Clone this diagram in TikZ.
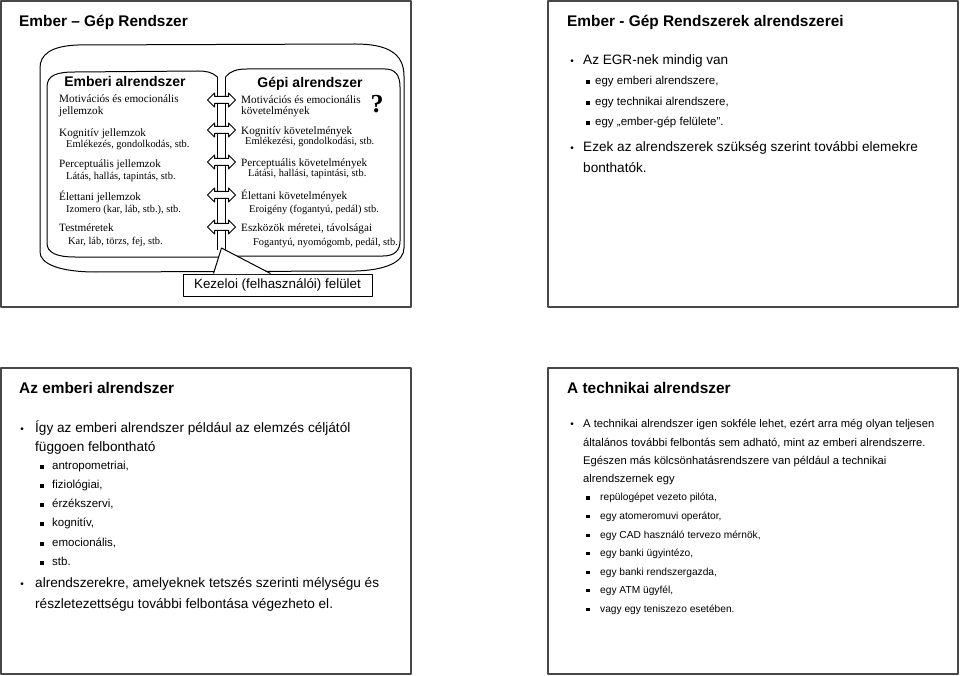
\documentclass[tikz,border=0pt]{standalone}
\usepackage{fontspec}
\setmainfont{Liberation Sans}
\newfontfamily\serifface{Liberation Serif}
\newcommand{\MB}[1]{\makebox[#1pt][l]{\fontsize{10}{10}\selectfont\raisebox{0.3pt}{•}}}
\newcommand{\SB}[1]{\makebox[#1pt][l]{\rule[1.2pt]{3.6pt}{3.6pt}}}
\begin{document}
\begin{tikzpicture}[x=1pt,y=-1pt,line join=round,
  frame/.style={draw=black!72,line width=1.5pt},
  ln/.style={line width=1pt},
  t/.style={anchor=base west,inner sep=0pt},
  slidetitle/.style={t,font=\fontsize{15.4}{18}\selectfont\bfseries},
  pagetitle/.style={anchor=base,inner sep=0pt,font=\fontsize{14}{16}\selectfont\bfseries},
  sm/.style={t,font=\serifface\fontsize{11.2}{13}\selectfont},
  ss/.style={t,font=\serifface\fontsize{10.4}{12}\selectfont},
  mainA/.style={t,font=\fontsize{13.6}{16}\selectfont},
  subA/.style={t,font=\fontsize{11.5}{14}\selectfont},
  mainB/.style={t,font=\fontsize{11.2}{14}\selectfont},
  subB/.style={t,font=\fontsize{10.2}{12}\selectfont},
  blockarrow/.style={ln,draw,fill=white}]
\useasboundingbox (0,0) rectangle (960,676);

% slide frames
\draw[frame] (1,1) rectangle (411,307);
\draw[frame] (548,1) rectangle (958,307);
\draw[frame] (1,368) rectangle (411,674);
\draw[frame] (548,368) rectangle (958,674);

% ---------- top-left slide ----------
\node[slidetitle] (tltitle) at (19,26.5) {Ember – Gép Rendszer};

% outer book shape
\draw[ln] (40,252) -- (40,68) .. controls (40,55) and (50,46) .. (78,45)
  -- (355,44) .. controls (387,44) and (404,53) .. (404,76)
  -- (404,248) .. controls (404,262) and (386,270) .. (356,271)
  -- (96,272) .. controls (60,272) and (40,264) .. (40,252);
% left page
\draw[ln] (217.5,77) .. controls (212,72) and (206,71) .. (198,71) -- (75,72)
  .. controls (57,72) and (47,75) .. (47,87) -- (47,243)
  .. controls (47,253) and (57,257) .. (75,257) -- (220,257);
% right page
\draw[ln] (225.5,77) .. controls (230,71) and (237,69) .. (247,69) -- (385,69)
  .. controls (395,69) and (400,75) .. (400,87) -- (400,241)
  .. controls (400,251) and (394,256) .. (383,256) -- (225,256);
% spine
\draw[ln] (217.5,77) -- (217.5,250);
\draw[ln] (225.5,77) -- (225.5,250);
% double block arrows across the spine
\foreach \yy in {100,130,162,195,227}{
  \draw[blockarrow] (207.5,\yy) -- (214.5,\yy-7) -- (214.5,\yy-3.5) -- (228.5,\yy-3.5)
    -- (228.5,\yy-7) -- (235.5,\yy) -- (228.5,\yy+7) -- (228.5,\yy+3.5)
    -- (214.5,\yy+3.5) -- (214.5,\yy+7) -- cycle;
}

% left page text
\node[pagetitle] (embtitle) at (125,87) {Emberi alrendszer};
\node[sm] (l1) at (59,102.5) {Motivációs és emocionális};
\node[sm] (l1b) at (59,114.5) {jellemzok};
\node[sm] (l2) at (59,136.5) {Kognitív jellemzok};
\node[ss] (l2b) at (66,147.5) {Emlékezés, gondolkodás, stb.};
\node[sm] (l3) at (59,167.5) {Perceptuális jellemzok};
\node[ss] (l3b) at (66,179.5) {Látás, hallás, tapintás, stb.};
\node[sm] (l4) at (59,200.5) {Élettani jellemzok};
\node[ss] (l4b) at (66,212.5) {Izomero (kar, láb, stb.), stb.};
\node[sm] (l5) at (59,231.5) {Testméretek};
\node[ss] (l5b) at (68,244.5) {Kar, láb, törzs, fej, stb.};

% right page text
\node[pagetitle] (geptitle) at (310,88) {Gépi alrendszer};
\node[sm] (r1) at (241,103.5) {Motivációs és emocionális};
\node[sm] (r1b) at (241,114.5) {követelmények};
\node[anchor=base,inner sep=0pt,font=\serifface\fontsize{26}{28}\selectfont\bfseries] (qm) at (377,113) {?};
\node[sm] (r2) at (241,134.5) {Kognitív követelmények};
\node[ss] (r2b) at (245,144.5) {Emlékezési, gondolkodási, stb.};
\node[sm] (r3) at (241,166.5) {Perceptuális követelmények};
\node[ss] (r3b) at (248,176.5) {Látási, hallási, tapintási, stb.};
\node[sm] (r4) at (241,199.5) {Élettani követelmények};
\node[ss] (r4b) at (249,212.5) {Eroigény (fogantyú, pedál) stb.};
\node[sm] (r5) at (241,231.5) {Eszközök méretei, távolságai};
\node[ss] (r5b) at (253,245.5) {Fogantyú, nyomógomb, pedál, stb.};

% interface callout
\node[draw,ln,fill=white,minimum width=189pt,minimum height=22pt,inner sep=0pt,
  font=\fontsize{13.4}{16}\selectfont] (kez) at (277.5,285) {Kezeloi (felhasználói) felület};
\coordinate (apex) at (221.5,248);
\coordinate (kl) at ([xshift=-64pt]kez.north);
\coordinate (kr) at ([xshift=-7pt]kez.north);
\fill[white] ([yshift=-0.7pt]kl) -- (apex) -- ([yshift=-0.7pt]kr) -- cycle;
\draw[ln] (kl) -- (apex) -- (kr);

% ---------- top-right slide ----------
\node[slidetitle] (trtitle) at (567,26.5) {Ember - Gép Rendszerek alrendszerei};
\node[mainA] (tr1) at (570.25,64.5) {\MB{12.75}Az EGR-nek mindig van};
\node[subA] (tr1a) at (586.2,84.8) {\SB{8.8}egy emberi alrendszere,};
\node[subA] (tr1b) at (586.2,105.8) {\SB{8.8}egy technikai alrendszere,};
\node[subA] (tr1c) at (586.2,125.8) {\SB{8.8}egy „ember-gép felülete”.};
\node[mainA] (tr2) at (570.25,151.5) {\MB{12.75}Ezek az alrendszerek szükség szerint további elemekre};
\node[mainA] (tr2b) at (583,172.5) {bonthatók.};

% ---------- bottom-left slide ----------
\node[slidetitle] (bltitle) at (19,393.5) {Az emberi alrendszer};
\node[mainA] (bl1) at (20.25,432.6) {\MB{14.75}Így az emberi alrendszer például az elemzés céljától};
\node[mainA] (bl1b) at (35,451.6) {függoen felbontható};
\node[subA] (bla) at (40.2,469.8) {\SB{11.8}antropometriai,};
\node[subA] (blb) at (40.2,488.8) {\SB{11.8}fiziológiai,};
\node[subA] (blc) at (40.2,507.8) {\SB{11.8}érzékszervi,};
\node[subA] (bld) at (40.2,526.8) {\SB{11.8}kognitív,};
\node[subA] (ble) at (40.2,546.8) {\SB{11.8}emocionális,};
\node[subA] (blf) at (40.2,565.8) {\SB{11.8}stb.};
\node[mainA] (bl2) at (20.25,587.6) {\MB{14.75}alrendszerekre, amelyeknek tetszés szerinti mélységu és};
\node[mainA] (bl2b) at (35,608.6) {részletezettségu további felbontása végezheto el.};

% ---------- bottom-right slide ----------
\node[slidetitle] (brtitle) at (567,393.5) {A technikai alrendszer};
\node[mainB] (br1) at (570.25,427.7) {\MB{12.75}A technikai alrendszer igen sokféle lehet, ezért arra még olyan teljesen};
\node[mainB] (br1b) at (583,446.7) {általános további felbontás sem adható, mint az emberi alrendszerre.};
\node[mainB] (br1c) at (583,464.7) {Egészen más kölcsönhatásrendszere van például a technikai};
\node[mainB] (br1d) at (583,482.7) {alrendszernek egy};
\node[subB] (bra) at (586.2,500.9) {\SB{13.8}repülogépet vezeto pilóta,};
\node[subB] (brb) at (586.2,519.4) {\SB{13.8}egy atomeromuvi operátor,};
\node[subB] (brc) at (586.2,538.4) {\SB{13.8}egy CAD használó tervezo mérnök,};
\node[subB] (brd) at (586.2,556.4) {\SB{13.8}egy banki ügyintézo,};
\node[subB] (bre) at (586.2,575.4) {\SB{13.8}egy banki rendszergazda,};
\node[subB] (brf) at (586.2,593.4) {\SB{13.8}egy ATM ügyfél,};
\node[subB] (brg) at (586.2,612.4) {\SB{13.8}vagy egy teniszezo esetében.};
\end{tikzpicture}
\end{document}
